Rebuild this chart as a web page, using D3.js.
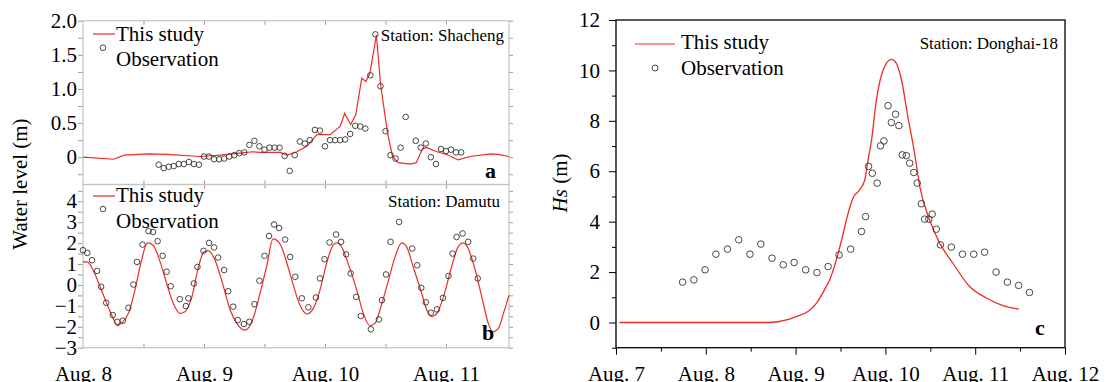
<!DOCTYPE html>
<html>
<head>
<meta charset="utf-8">
<script src="https://cdn.jsdelivr.net/npm/d3@7"></script>
<style>
	body { margin: 0; background: #fff; }
	svg { font-family: "Liberation Serif", "Times New Roman", serif; }
</style>
</head>
<body>
<div id="chart"></div>
<script>
// ********** WATER LEVEL / WAVE HEIGHT VALIDATION FIGURE **********

// ---- Data: times are hours since the first labelled day ----

// Panel a - Shacheng water level (m), hours from Aug. 8
const shachengModelHours = [0, 6.1, 8.2, 13.1, 16.7, 23.2, 27.2, 31.1, 33.7, 35.1, 39.1, 40.5, 42.4, 44.4, 46.4, 49.0, 51.0, 51.9, 53.1, 54.1, 55.3, 56.1, 56.9, 58.2, 59.0, 60.4, 61.4, 62.5, 64.9, 66.1, 67.4, 68.2, 70.2, 72.2, 74.4, 76.8, 80.8, 82.4, 84.5];
const shachengModelLevel = [0.0, -0.03, 0.03, 0.05, 0.04, 0.01, 0.03, 0.06, 0.08, 0.07, 0.07, 0.03, 0.08, 0.16, 0.33, 0.33, 0.45, 0.64, 0.48, 0.62, 1.16, 1.11, 1.23, 1.79, 1.08, 0.36, 0.01, -0.08, -0.10, -0.08, 0.13, 0.14, 0.08, 0.04, -0.04, 0.01, 0.05, 0.04, 0.01];
const shachengObsHours = [15, 16, 17, 18, 19, 20, 21, 22, 23, 24, 25, 26, 27, 28, 29, 30, 31, 32, 33, 34, 35, 36, 37, 38, 39, 40, 41, 42, 43, 44, 45, 46, 47, 48, 49, 50, 51, 52, 53, 54, 55, 56, 57, 58, 59, 60, 61, 62, 63, 64, 66, 67, 68, 69, 70, 71, 72, 73, 74, 75];
const shachengObsLevel = [-0.11, -0.16, -0.14, -0.13, -0.10, -0.10, -0.07, -0.10, -0.11, 0.01, 0.01, -0.03, -0.03, -0.02, 0.01, 0.03, 0.06, 0.07, 0.18, 0.24, 0.16, 0.11, 0.14, 0.14, 0.14, 0.02, -0.20, 0.03, 0.23, 0.20, 0.25, 0.40, 0.39, 0.16, 0.25, 0.25, 0.25, 0.26, 0.34, 0.46, 0.45, 0.42, 1.20, 1.80, 1.04, 0.38, 0.03, -0.02, 0.14, 0.59, 0.24, 0.14, 0.20, 0.00, -0.10, 0.12, 0.09, 0.11, 0.07, 0.07];

// Panel b - Damutu water level (m), hours from Aug. 8
const damutuModelHours = [0, 0.85, 2.0, 3.4, 4.7, 6.0, 6.8, 7.7, 9.0, 10.3, 11.6, 12.8, 13.9, 15.3, 16.6, 17.9, 19.2, 20.2, 21.6, 22.9, 24.0, 24.9, 26.2, 27.5, 29.2, 30.5, 32.1, 33.5, 35.1, 36.4, 37.7, 39.1, 40.5, 41.7, 43.0, 44.4, 45.7, 47.0, 48.3, 49.6, 50.3, 51.3, 52.6, 54.3, 55.6, 56.9, 57.9, 59.2, 60.6, 61.9, 63.2, 64.2, 65.5, 67.2, 68.2, 69.2, 70.2, 71.5, 73.1, 74.4, 75.4, 76.4, 77.8, 79.1, 80.4, 81.3, 82.4, 83.4, 84.5];
const damutuModelLevel = [1.10, 1.10, 0.71, -0.09, -0.88, -1.60, -1.95, -1.81, -1.36, -0.25, 1.18, 2.01, 1.90, 1.10, 0.07, -0.88, -1.36, -1.28, -0.57, 0.86, 1.58, 1.63, 1.18, 0.23, -1.20, -1.84, -2.16, -1.76, -0.41, 0.86, 2.20, 1.95, 1.00, 0.00, -0.95, -1.39, -1.12, -0.25, 1.02, 1.90, 2.01, 1.82, 1.02, -0.25, -1.36, -1.95, -1.84, -0.96, 0.23, 1.34, 2.01, 1.82, 0.86, -0.41, -1.20, -1.52, -1.36, -0.57, 0.86, 1.82, 2.01, 1.74, 0.71, -0.57, -1.84, -2.24, -2.08, -1.36, -0.49];
const damutuObsHours = [0.0, 0.85, 1.8, 2.8, 3.6, 4.6, 5.9, 6.8, 7.9, 9.0, 10.0, 10.7, 11.8, 13.0, 13.9, 14.8, 15.8, 16.6, 17.4, 19.2, 20.4, 20.9, 22.0, 22.7, 23.9, 25.0, 26.0, 26.8, 28.0, 28.8, 29.8, 30.7, 31.9, 33.0, 34.0, 35.0, 36.0, 36.9, 37.9, 38.9, 40.1, 41.1, 42.1, 43.4, 44.7, 46.2, 47.0, 47.9, 48.9, 50.2, 51.2, 52.2, 53.1, 54.2, 55.1, 57.1, 58.7, 59.3, 60.1, 61.0, 62.7, 65.3, 66.3, 67.1, 68.0, 69.0, 70.2, 71.4, 72.5, 73.3, 74.1, 75.3, 76.4, 77.4, 78.3];
const damutuObsLevel = [1.66, 1.53, 1.18, 0.67, -0.09, -0.85, -1.44, -1.76, -1.71, -1.09, 0.02, 1.10, 1.93, 2.57, 2.53, 2.09, 1.39, 0.63, -0.06, -0.68, -1.01, -0.64, 0.07, 0.86, 1.63, 2.01, 1.79, 1.31, 0.71, -0.30, -1.04, -1.68, -1.87, -1.76, -0.92, 0.20, 1.39, 2.34, 2.89, 2.72, 2.17, 1.34, 0.39, -0.64, -1.07, -0.60, 0.31, 1.23, 2.03, 2.41, 2.06, 1.46, 0.55, -0.57, -1.49, -2.12, -1.65, -0.73, 0.50, 2.06, 3.01, 1.74, 0.94, -0.14, -0.83, -1.33, -1.17, -0.62, 0.43, 1.50, 2.29, 2.46, 2.06, 1.26, 0.31];

// Panel c - Donghai-18 significant wave height (m), hours from Aug. 7
const donghaiModelHours = [0.9, 41.0, 45.6, 48.2, 51.3, 53.6, 56.2, 57.1, 59.3, 60.5, 61.8, 63.3, 65.1, 66.5, 67.2, 68.3, 69.6, 71.4, 73.6, 74.9, 76.3, 78.0, 79.8, 81.2, 83.8, 86.5, 90.0, 94.5, 99.0, 103.4, 107.7];
const donghaiModelHs = [0, 0, 0.1, 0.24, 0.44, 0.77, 1.43, 1.69, 2.7, 3.4, 4.2, 4.93, 5.26, 5.66, 6.3, 7.24, 8.83, 10.02, 10.44, 10.29, 9.62, 8.17, 6.72, 5.39, 4.07, 3.15, 2.36, 1.43, 0.97, 0.67, 0.53];
const donghaiObsHours = [17.8, 20.8, 23.8, 26.7, 29.8, 32.8, 35.8, 38.7, 41.7, 44.7, 47.6, 50.7, 53.7, 56.7, 59.6, 62.7, 65.6, 66.7, 67.5, 68.5, 69.8, 70.7, 71.6, 72.7, 73.6, 74.7, 75.6, 76.5, 77.6, 78.5, 79.6, 80.5, 81.6, 82.5, 83.6, 84.5, 85.6, 86.7, 89.6, 92.6, 95.6, 98.5, 101.6, 104.6, 107.6, 110.5];
const donghaiObsHs = [1.60, 1.69, 2.09, 2.71, 2.91, 3.28, 2.71, 3.11, 2.55, 2.29, 2.38, 2.09, 1.98, 2.22, 2.68, 2.91, 3.61, 4.20, 6.19, 5.92, 5.53, 7.01, 7.20, 8.60, 7.93, 8.26, 7.81, 6.65, 6.62, 6.32, 5.95, 5.53, 4.71, 4.10, 4.10, 4.30, 3.70, 3.08, 2.99, 2.71, 2.71, 2.79, 2.00, 1.60, 1.47, 1.19];

// Tick labels
const leftDayLabels = ['Aug. 8', 'Aug. 9', 'Aug. 10', 'Aug. 11'];
const rightDayLabels = ['Aug. 7', 'Aug. 8', 'Aug. 9', 'Aug. 10', 'Aug. 11', 'Aug. 12'];
const levelTicksA = [-0.25, 0, 0.25, 0.5, 0.75, 1.0, 1.25, 1.5, 1.75, 2.0];
const levelTicksB = [-3, -2.5, -2, -1.5, -1, -0.5, 0, 0.5, 1, 1.5, 2, 2.5, 3, 3.5, 4, 4.5];
const hsTicks = [-1, 0, 1, 2, 3, 4, 5, 6, 7, 8, 9, 10, 11, 12];

// ---- Layout ----
const width = 1105;
const height = 382;
const left = { x0: 83, x1: 509 };
const right = { x0: 616, x1: 1065, y0: 20, y1: 347.7 };
const lineRed = '#ee2b24';
const frameGrey = '#c4c4c4';
const tickGrey = '#9a9a9a';
const serif = '"Liberation Serif", "Times New Roman", serif';

const svg = d3.select('#chart')
	.append('svg')
	.attr('width', width)
	.attr('height', height);

// Zip two arrays into [x, y] pairs
const pairs = (xs, ys) => xs.map((d, i) => [d, ys[i]]);

// Scales
const xLeft = d3.scaleLinear().domain([0, 84.5]).range([left.x0, left.x1]);
const yA = d3.scaleLinear().domain([-0.4, 2.0]).range([184.5, 20.7]);
const yB = d3.scaleLinear().domain([-3, 4.8]).range([347.7, 184.5]);
const xRight = d3.scaleLinear().domain([0, 120]).range([right.x0, right.x1]);
const yC = d3.scaleLinear().domain([-1, 12]).range([right.y1, right.y0]);

// Style an axis group with the serif font
const styleAxis = (g, size) => {
	g.attr('font-family', serif).attr('font-size', size);
	g.select('.domain').remove();
	g.selectAll('text').attr('fill', '#000');
};

// Function to render one left-hand (grey framed) panel
const renderLeftPanel = (yScale, ticks, fmt, modelData, obsData, curve) => {
	const [yBottom, yTop] = yScale.range();

	// Left axis, ticks outwards
	const gl = svg.append('g')
		.attr('transform', `translate(${left.x0},0)`)
		.call(d3.axisLeft(yScale).tickValues(ticks).tickSize(5).tickPadding(1).tickFormat(fmt));
	styleAxis(gl, 21);
	gl.selectAll('line').attr('stroke', tickGrey);

	// Right axis, ticks inwards
	const gr = svg.append('g')
		.attr('transform', `translate(${left.x1},0)`)
		.call(d3.axisLeft(yScale).tickValues(ticks).tickSize(-4).tickFormat(''));
	styleAxis(gr, 10);
	gr.selectAll('line').attr('stroke', tickGrey);

	// Half-day ticks on top and bottom, inwards
	const halfDays = [12, 24, 36, 48, 60, 72];
	const gt = svg.append('g')
		.attr('transform', `translate(0,${yTop})`)
		.call(d3.axisBottom(xLeft).tickValues(halfDays).tickSize(4).tickFormat(''));
	styleAxis(gt, 10);
	gt.selectAll('line').attr('stroke', tickGrey);
	const gb = svg.append('g')
		.attr('transform', `translate(0,${yBottom})`)
		.call(d3.axisTop(xLeft).tickValues(halfDays).tickSize(4).tickFormat(''));
	styleAxis(gb, 10);
	gb.selectAll('line').attr('stroke', tickGrey);

	// Frame
	svg.append('rect')
		.attr('x', left.x0)
		.attr('y', yTop)
		.attr('width', left.x1 - left.x0)
		.attr('height', yBottom - yTop)
		.attr('fill', 'none')
		.attr('stroke', frameGrey)
		.attr('stroke-width', 1.2);

	// Model line
	const line = d3.line()
		.x(d => xLeft(d[0]))
		.y(d => yScale(d[1]))
		.curve(curve);
	svg.append('path')
		.datum(modelData)
		.attr('d', line)
		.attr('fill', 'none')
		.attr('stroke', lineRed)
		.attr('stroke-width', 1.2);

	// Observations
	svg.append('g')
		.selectAll('circle')
		.data(obsData)
		.enter()
		.append('circle')
		.attr('cx', d => xLeft(d[0]))
		.attr('cy', d => yScale(d[1]))
		.attr('r', 2.8)
		.attr('fill', 'none')
		.attr('stroke', '#333')
		.attr('stroke-width', 0.9);
};

// Legend: red line + circle with two labels
const renderLegend = (lineX0, lineX1, lineY, textX, base1, circleX, circleY, base2, r) => {
	svg.append('line')
		.attr('x1', lineX0).attr('x2', lineX1)
		.attr('y1', lineY).attr('y2', lineY)
		.attr('stroke', lineRed)
		.attr('stroke-width', 1.2);
	svg.append('text')
		.attr('x', textX).attr('y', base1)
		.attr('font-size', 21)
		.text('This study');
	svg.append('circle')
		.attr('cx', circleX).attr('cy', circleY)
		.attr('r', r)
		.attr('fill', 'none')
		.attr('stroke', '#333')
		.attr('stroke-width', 0.9);
	svg.append('text')
		.attr('x', textX).attr('y', base2)
		.attr('font-size', 21)
		.text('Observation');
};

// Station name and panel letter
const renderTags = (station, sx, sy, letter, lx, ly) => {
	svg.append('text')
		.attr('x', sx).attr('y', sy)
		.attr('text-anchor', 'end')
		.attr('font-size', 17)
		.text(station);
	svg.append('text')
		.attr('x', lx).attr('y', ly)
		.attr('font-size', 22)
		.attr('font-weight', 'bold')
		.text(letter);
};

// ---- Panel a ----
renderLeftPanel(yA, levelTicksA,
	d => (d * 2) % 1 === 0 ? (d === 0 ? '0' : d.toFixed(1)) : '',
	pairs(shachengModelHours, shachengModelLevel),
	pairs(shachengObsHours, shachengObsLevel),
	d3.curveLinear);
renderLegend(93, 115, 34, 116, 40.5, 103, 47.7, 66, 2.8);
renderTags('Station: Shacheng', 504, 41, 'a', 485, 178);

// ---- Panel b ----
renderLeftPanel(yB, levelTicksB,
	d => Number.isInteger(d) ? d3.format('d')(d) : '',
	pairs(damutuModelHours, damutuModelLevel),
	pairs(damutuObsHours, damutuObsLevel),
	d3.curveMonotoneX);
renderLegend(93, 115, 196, 116, 202, 103, 209, 228, 2.8);
renderTags('Station: Damutu', 500, 207, 'b', 482, 340);

// Left panel day labels
const gLeftDays = svg.append('g')
	.attr('transform', `translate(0,${yB.range()[0]})`)
	.call(d3.axisBottom(xLeft).tickValues([0, 24, 48, 72]).tickSize(0).tickPadding(18)
		.tickFormat((d, i) => leftDayLabels[i]));
styleAxis(gLeftDays, 21);

// Y axis title for the left panels
svg.append('text')
	.attr('transform', 'translate(27,184) rotate(-90)')
	.attr('text-anchor', 'middle')
	.attr('font-size', 21)
	.text('Water level (m)');

// ---- Panel c ----
const gcy = svg.append('g')
	.attr('transform', `translate(${right.x0},0)`)
	.call(d3.axisLeft(yC).tickValues(hsTicks).tickSize(7).tickPadding(9)
		.tickFormat(d => d >= 0 && d % 2 === 0 ? d : ''));
styleAxis(gcy, 21);
gcy.selectAll('.tick line')
	.attr('x2', d => d % 2 === 0 ? -7 : -4);

const gcx = svg.append('g')
	.attr('transform', `translate(0,${right.y1})`)
	.call(d3.axisBottom(xRight).tickValues(d3.range(0, 121, 12)).tickSize(7).tickPadding(11)
		.tickFormat(d => d % 24 === 0 ? rightDayLabels[d / 24] : ''));
styleAxis(gcx, 21);
gcx.selectAll('.tick line')
	.attr('y2', d => d % 24 === 0 ? 7 : 4);

svg.append('rect')
	.attr('x', right.x0)
	.attr('y', right.y0)
	.attr('width', right.x1 - right.x0)
	.attr('height', right.y1 - right.y0)
	.attr('fill', 'none')
	.attr('stroke', '#000')
	.attr('stroke-width', 1.3);

const lineC = d3.line()
	.x(d => xRight(d[0]))
	.y(d => yC(d[1]))
	.curve(d3.curveMonotoneX);
svg.append('path')
	.datum(pairs(donghaiModelHours, donghaiModelHs))
	.attr('d', lineC)
	.attr('fill', 'none')
	.attr('stroke', lineRed)
	.attr('stroke-width', 1.3);

svg.append('g')
	.selectAll('circle')
	.data(pairs(donghaiObsHours, donghaiObsHs))
	.enter()
	.append('circle')
	.attr('cx', d => xRight(d[0]))
	.attr('cy', d => yC(d[1]))
	.attr('r', 3.3)
	.attr('fill', 'none')
	.attr('stroke', '#333')
	.attr('stroke-width', 0.9);

renderLegend(635, 675, 44, 681, 49, 655, 68, 75, 3);
renderTags('Station: Donghai-18', 1058, 49, 'c', 1035, 335);

// Y axis title for panel c (Hs in italics)
const hsTitle = svg.append('text')
	.attr('transform', 'translate(567,183) rotate(-90)')
	.attr('text-anchor', 'middle')
	.attr('font-size', 21);
hsTitle.append('tspan').attr('font-style', 'italic').text('Hs');
hsTitle.append('tspan').text(' (m)');
</script>
</body>
</html>
